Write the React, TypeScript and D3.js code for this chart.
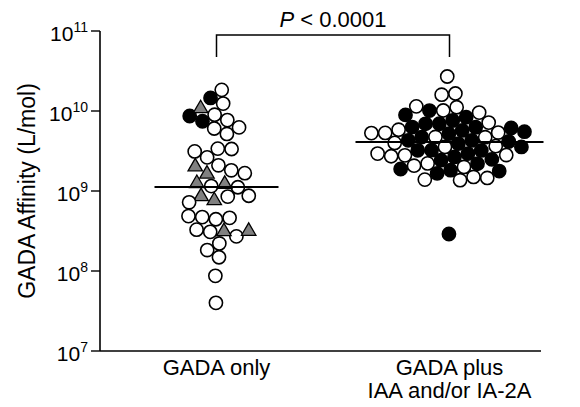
import * as d3 from "d3";
import React, { useMemo } from "react";

const width = 580;
const height = 407;

// categories + tick values
const groups = ["GADA only", "GADA plus IAA and/or IA-2A"];
const groupLabelLines = [["GADA only"], ["GADA plus", "IAA and/or IA-2A"]];
const yTicks = [1e7, 1e8, 1e9, 1e10, 1e11];
const yTickExponents = ["7", "8", "9", "10", "11"];
const medians = [1.12e9, 4.1e9];
const pLabel = "< 0.0001";

// GADA only (L/mol)
const onlyOpen = [
  1.8e10, 1.26e10, 8.2e9, 7.7e9, 6.5e9, 6.3e9, 5.2e9, 3.35e9, 3.35e9, 3.1e9,
  2.66e9, 2.05e9, 1.83e9, 1.68e9, 1.15e9, 1.06e9, 8.9e8, 8.9e8, 7.1e8, 5.0e8,
  4.6e8, 4.6e8, 4.1e8, 3.35e8, 3.16e8, 2.8e8, 2.2e8, 1.83e8, 1.5e8, 8.7e7, 4.0e7,
];
const onlyTriangle = [1.06e10, 2.05e9, 1.68e9, 1.26e9, 1.22e9, 8.9e8, 8.1e8, 3.35e8, 3.2e8];
const onlyFilled = [1.45e10, 8.6e9, 7.9e9];

// GADA plus IAA and/or IA-2A (L/mol)
const plusOpen = [
  2.7e10, 1.6e10, 1.6e10, 1.12e10, 9.2e9, 7.9e9, 7.9e9, 6.5e9, 5.9e9, 5.3e9,
  5.3e9, 5.2e9, 4.9e9, 4.9e9, 4.5e9, 3.9e9, 3.65e9, 3.2e9, 2.9e9, 2.9e9,
  2.75e9, 2.6e9, 2.2e9, 2.05e9, 1.68e9, 1.6e9, 1.46e9, 1.4e9,
];
const plusFilled = [
  9.4e9, 8.6e9, 7.1e9, 6.9e9, 6.5e9, 6.1e9, 5.9e9, 5.75e9, 5.6e9, 5.6e9,
  5.6e9, 4.9e9, 4.75e9, 4.6e9, 4.6e9, 4.2e9, 4.1e9, 3.65e9, 3.45e9, 3.45e9,
  3.2e9, 2.9e9, 2.8e9, 2.75e9, 2.5e9, 2.05e9, 1.9e9, 1.9e9, 1.9e9, 1.85e9, 2.9e8,
];

const font = "'Liberation Sans', Arial, sans-serif";

type Node = { group: number; kind: string; value: number; x: number; y: number; ty: number; i: number };

export default function App() {
  const xScale = d3.scalePoint().domain(groups).range([100, 566]).padding(0.5);
  const yScale = d3.scaleLog().domain([1e7, 1e11]).range([351, 31]);

  const nodes = useMemo(() => {
    const list: Node[] = [];
    const add = (g: number, kind: string, vals: number[]) =>
      vals.forEach((v, i) => {
        const cx = xScale(groups[g]) as number;
        list.push({ group: g, kind, value: v, x: cx + ((i % 9) - 4) * 3, y: yScale(v), ty: yScale(v), i: list.length });
      });
    add(0, "open", onlyOpen);
    add(0, "tri", onlyTriangle);
    add(0, "filled", onlyFilled);
    add(1, "open", plusOpen);
    add(1, "filled", plusFilled);
    const sim = d3
      .forceSimulation(list as any)
      .force("x", d3.forceX((d: any) => xScale(groups[d.group]) as number).strength(0.025))
      .force("y", d3.forceY((d: any) => d.ty).strength(0.9))
      .force("collide", d3.forceCollide(6.9).iterations(2))
      .stop();
    for (let i = 0; i < 300; i++) sim.tick();
    // draw order mixes the kinds like the scanned plot
    return list.slice().sort((a, b) => ((a.i * 37) % 101) - ((b.i * 37) % 101));
  }, []);

  const lineHalf = [62, 94];
  const tri = d3.symbol(d3.symbolTriangle, 90)();
  const x0 = xScale(groups[0]) as number;
  const x1 = xScale(groups[1]) as number;

  return (
    <svg width={width} height={height} style={{ position: "absolute", left: 0, top: 0, fontFamily: font }}>
      <rect width={width} height={height} fill="#fff" />
      {/* axes */}
      <line x1={100} x2={100} y1={yScale(1e11)} y2={yScale(1e7)} stroke="#000" strokeWidth={1.6} />
      <line x1={100} x2={541} y1={yScale(1e7)} y2={yScale(1e7)} stroke="#000" strokeWidth={1.6} />
      {yTicks.map((t, i) => (
        <g key={t}>
          <line x1={91} x2={100} y1={yScale(t)} y2={yScale(t)} stroke="#000" strokeWidth={1.4} />
          <text x={88} y={yScale(t) + 10} textAnchor="end" fontSize={21}>
            10
            <tspan fontSize={14} dy={-9}>{yTickExponents[i]}</tspan>
          </text>
        </g>
      ))}
      <text
        transform={`translate(35, ${(yScale(1e7) + yScale(1e11)) / 2}) rotate(-90)`}
        textAnchor="middle"
        fontSize={23}
      >
        GADA Affinity (L/mol)
      </text>
      {groupLabelLines.map((lines, g) =>
        lines.map((l, j) => (
          <text key={g + l} x={xScale(groups[g]) as number} y={375 + j * 23} textAnchor="middle" fontSize={22}>
            {l}
          </text>
        ))
      )}
      {/* significance bracket */}
      <path d={`M${x0},57V35H${x1}V57`} fill="none" stroke="#000" strokeWidth={1.5} />
      <text x={(x0 + x1) / 2} y={27} textAnchor="middle" fontSize={22}>
        <tspan fontStyle="italic">P</tspan> {pLabel}
      </text>
      {/* points */}
      {nodes.map((n) =>
        n.kind === "tri" ? (
          <path key={n.i} d={tri as string} transform={`translate(${n.x},${n.y + 1})`} fill="#808080" stroke="#000" strokeWidth={1.3} />
        ) : (
          <circle key={n.i} cx={n.x} cy={n.y} r={6.6} fill={n.kind === "filled" ? "#000" : "#fff"} stroke="#000" strokeWidth={1.6} />
        )
      )}
      {/* medians */}
      {medians.map((m, g) => (
        <line
          key={g}
          x1={(xScale(groups[g]) as number) - lineHalf[g]}
          x2={(xScale(groups[g]) as number) + lineHalf[g]}
          y1={yScale(m)}
          y2={yScale(m)}
          stroke="#000"
          strokeWidth={2}
        />
      ))}
    </svg>
  );
}
